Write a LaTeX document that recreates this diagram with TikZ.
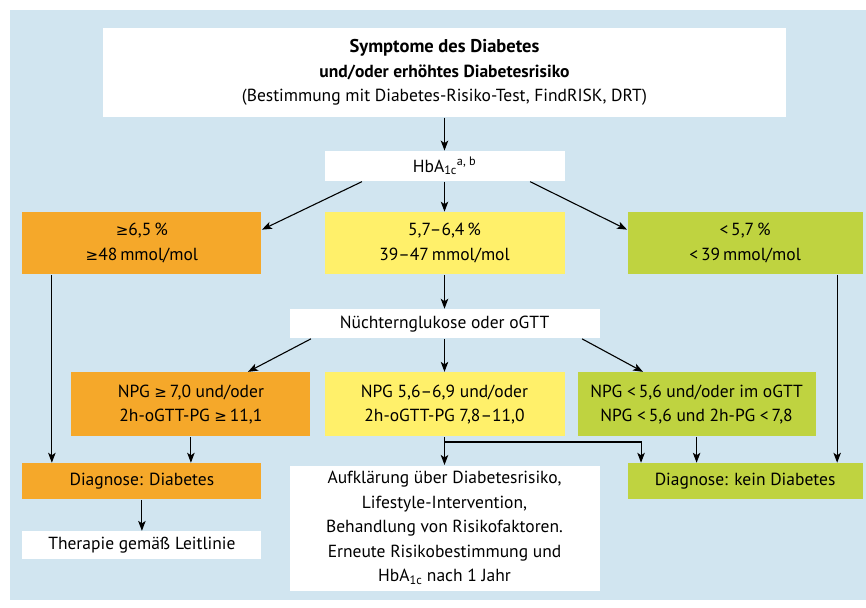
\documentclass[tikz,border=0pt]{standalone}
\usepackage{fontspec}
\setmainfont{PT Sans}
\newfontfamily\symfont{DejaVu Sans}
\usetikzlibrary{positioning,arrows.meta,calc}
\definecolor{bgblue}{HTML}{D1E5F0}
\definecolor{boxorange}{HTML}{F5A82A}
\definecolor{boxyellow}{HTML}{FFF06A}
\definecolor{boxgreen}{HTML}{BFD340}
\def\dy{30pt}
\def\dx{62pt}
\tikzstyle{box}=[fill=white,align=center,inner sep=0pt,font=\fontsize{17.5}{24.5}\selectfont]
\tikzstyle{orangebox}=[box,fill=boxorange]
\tikzstyle{yellowbox}=[box,fill=boxyellow]
\tikzstyle{greenbox}=[box,fill=boxgreen]
\newcommand{\newBox}[5]{\node[#3,#5](#1)[#4]{#2};}
\newcommand{\newArrow}[3]{\draw[->] (#1) -- (#2) #3;}
\newcommand{\hba}{HbA\textsubscript{1c}}
\newcommand{\gtr}{{\symfont\fontsize{15}{15}\selectfont ≥}}

\begin{document}
\begin{tikzpicture}[x=1pt,y=1pt,node distance=\dy and \dx,
      >={Stealth[length=10pt,width=7.5pt,inset=2.5pt]},
      line width=1.1pt
      ]
      \useasboundingbox (0,0) rectangle (866,-607);
      \fill[bgblue] (10,-10) rectangle (866,-600);
      % boxes
      \newBox{top}{\fontsize{18.5}{24.5}\selectfont\textbf{Symptome des Diabetes}\\\textbf{und/oder erhöhtes Diabetesrisiko}\\(Bestimmung mit Diabetes-Risiko-Test, FindRISK, DRT)}{box}{at={(444.5,-72.5)}}{minimum width=683pt,minimum height=89pt}
      \newBox{hb}{\hba\textsuperscript{a, b}}{box}{below=33pt of top}{minimum width=240pt,minimum height=30pt}
      \newBox{yel1}{5,7–6,4\,\%\\39–47\,mmol/mol}{yellowbox}{below=of hb}{minimum width=240pt,minimum height=62pt}
      \newBox{or1}{\gtr6,5\,\%\\\gtr48\,mmol/mol}{orangebox}{left=of yel1}{minimum width=239pt,minimum height=62pt}
      \newBox{gr1}{<\,5,7\,\%\\<\,39\,mmol/mol}{greenbox}{right=of yel1}{minimum width=235pt,minimum height=62pt}
      \newBox{ngl}{Nüchternglukose oder oGTT}{box}{below=34pt of yel1}{minimum width=310pt,minimum height=29pt}
      \newBox{yel2}{NPG 5,6–6,9 und/oder\\2h-oGTT-PG 7,8–11,0}{yellowbox}{below=33pt of ngl}{minimum width=240pt,minimum height=64pt}
      \newBox{or2}{NPG \gtr\,7,0 und/oder\\2h-oGTT-PG \gtr\,11,1}{orangebox}{left=13pt of yel2}{minimum width=239pt,minimum height=64pt}
      \newBox{gr2}{NPG <\,5,6 und/oder im oGTT\\NPG <\,5,6 und 2h-PG <\,7,8}{greenbox}{right=12pt of yel2}{minimum width=238pt,minimum height=64pt}
      \newBox{aufkl}{Aufklärung über Diabetesrisiko,\\Lifestyle-Intervention,\\Behandlung von Risikofaktoren.\\Erneute Risikobestimmung und\\\hba{} nach 1 Jahr}{box}{below=28pt of yel2}{minimum width=310pt,minimum height=125pt}
      \newBox{diag}{Diagnose: Diabetes}{orangebox}{below=188pt of or1}{minimum width=239pt,minimum height=36pt}
      \newBox{kein}{Diagnose: kein Diabetes}{greenbox}{below=188pt of gr1}{minimum width=235pt,minimum height=36pt}
      \newBox{ther}{Therapie gemäß Leitlinie}{box}{below=31pt of diag}{minimum width=239pt,minimum height=28pt}
      
      % arrows
      \newArrow{top}{hb}{}
      \newArrow{hb}{yel1}{}
      \newArrow{$(hb.south west)+(38,0)$}{$(or1.north east)+(0,-18)$}{}
      \newArrow{$(hb.south east)+(-35,0)$}{$(gr1.north west)+(0,-18)$}{}
      \newArrow{yel1}{ngl}{}
      \newArrow{ngl}{yel2}{}
      \newArrow{$(ngl.south west)+(22,0)$}{$(or2.north east)+(-63,0)$}{}
      \newArrow{$(ngl.south east)+(-18,0)$}{$(gr2.north west)+(66,0)$}{}
      \draw[->] ($(or1.south west)+(30,0)$) coordinate (l) -- (l |- diag.north);
      \draw[->] ($(gr1.south east)+(-26,0)$) coordinate (r) -- (r |- kein.north);
      \draw[->] (or2.south) -- (or2.south |- diag.north);
      \draw[->] (gr2.south) -- (gr2.south |- kein.north);
      \newArrow{yel2}{aufkl}{}
      \draw[->] ($(yel2.south)+(0,-5)$) -| ($(kein.north west)+(14,0)$);
      \newArrow{diag}{ther}{}
    \end{tikzpicture}
\end{document}
